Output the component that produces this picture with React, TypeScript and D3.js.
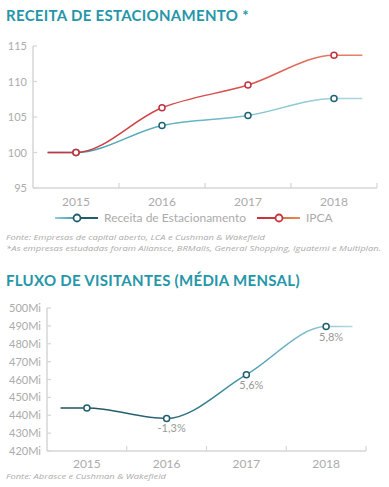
import React, { useRef, useEffect } from 'react';
import * as d3 from 'd3';

const years = ['2015', '2016', '2017', '2018'];
const receita = [100, 103.8, 105.2, 107.6];
const ipca = [100, 106.3, 109.5, 113.7];
const parkingTicks = [95, 100, 105, 110, 115];

const visitantes = [444, 438.2, 462.7, 489.6];
const visitantesLabels = ['', '-1,3%', '5,6%', '5,8%'];
const visitorTicks = [420, 430, 440, 450, 460, 470, 480, 490, 500];

const TEAL = '#2596a9';
const GRAY = '#ababab';
const AXIS = '#d6d6d6';
const FONT = 'Lato, "Open Sans", sans-serif';

const App = () => {
    const ref = useRef(null);

    useEffect(() => {
        const svg = d3.select(ref.current);
        svg.selectAll('*').remove();
        const defs = svg.append('defs');

        const grad = (id, x1, x2, stops) => {
            const g = defs.append('linearGradient')
                .attr('id', id)
                .attr('gradientUnits', 'userSpaceOnUse')
                .attr('x1', x1).attr('x2', x2).attr('y1', 0).attr('y2', 0);
            stops.forEach(([o, c]) => g.append('stop').attr('offset', o).attr('stop-color', c));
        };

        // shared axis drawing
        const drawAxes = (x, y, ticks, fmt, labelX, yearBaseline) => {
            const [x0, x1] = x.range();
            const [yb, yt] = y.range();
            const g = svg.append('g');
            g.append('line').attr('x1', x0).attr('x2', x0).attr('y1', yt).attr('y2', yb)
                .attr('stroke', AXIS).attr('stroke-width', 1.5);
            g.append('line').attr('x1', x0).attr('x2', x1).attr('y1', yb).attr('y2', yb)
                .attr('stroke', AXIS).attr('stroke-width', 1.5);
            g.selectAll('.yt').data(ticks).enter().append('line')
                .attr('x1', x0).attr('x2', x0 + 4)
                .attr('y1', d => y(d)).attr('y2', d => y(d))
                .attr('stroke', AXIS).attr('stroke-width', 1.2);
            g.selectAll('.yl').data(ticks).enter().append('text')
                .attr('x', labelX).attr('y', d => y(d) + 4)
                .attr('text-anchor', 'end')
                .attr('font-size', 11).attr('fill', GRAY).attr('font-family', FONT)
                .text(fmt);
            g.selectAll('.xt').data(years).enter().append('line')
                .attr('x1', d => x(d) + x.bandwidth()).attr('x2', d => x(d) + x.bandwidth())
                .attr('y1', yb).attr('y2', yb - 5)
                .attr('stroke', AXIS).attr('stroke-width', 1.2);
            g.selectAll('.xl').data(years).enter().append('text')
                .attr('x', d => x(d) + x.bandwidth() / 2).attr('y', yearBaseline)
                .attr('text-anchor', 'middle')
                .attr('font-size', 12).attr('fill', GRAY).attr('font-family', FONT)
                .text(d => d);
        };

        const drawSeries = (x, y, values, stroke, markerStroke) => {
            const stub = x.bandwidth() * 0.33;
            const cx = d => x(d) + x.bandwidth() / 2;
            const pts = values.map((v, i) => [cx(years[i]), y(v)]);
            const ext = [
                [pts[0][0] - stub, pts[0][1]],
                ...pts,
                [pts[pts.length - 1][0] + stub, pts[pts.length - 1][1]],
            ];
            const line = d3.line().curve(d3.curveMonotoneX);
            svg.append('path').attr('d', line(ext))
                .attr('fill', 'none').attr('stroke', stroke).attr('stroke-width', 1.5);
            svg.append('g').selectAll('circle').data(pts).enter().append('circle')
                .attr('cx', d => d[0]).attr('cy', d => d[1]).attr('r', 3)
                .attr('fill', '#fff').attr('stroke', markerStroke).attr('stroke-width', 1.5);
            return pts;
        };

        const title = (txt, yy) => svg.append('text')
            .attr('x', 6).attr('y', yy)
            .attr('font-size', 15).attr('font-weight', 700).attr('fill', TEAL)
            .attr('font-family', FONT).attr('letter-spacing', 0.3)
            .text(txt);

        const note = (txt, yy, w) => svg.append('text')
            .attr('x', 6).attr('y', yy)
            .attr('font-size', 7.8).attr('font-style', 'italic').attr('fill', GRAY)
            .attr('font-family', '"Open Sans", sans-serif')
            .attr('textLength', w).attr('lengthAdjust', 'spacingAndGlyphs')
            .text(txt);

        // ---- chart 1
        title('RECEITA DE ESTACIONAMENTO *', 21);
        const x1 = d3.scaleBand().domain(years).range([33, 377]);
        const y1 = d3.scaleLinear().domain([95, 115]).range([188, 46]);
        drawAxes(x1, y1, parkingTicks, d => d, 27, 206);

        grad('gRec', 50, 363, [[0, '#3a9aac'], [0.5, '#6bb7c6'], [1, '#acd7df']]);
        grad('gIpca', 50, 363, [[0, '#c9333f'], [0.6, '#d9524e'], [1, '#e8836a']]);
        drawSeries(x1, y1, receita, 'url(#gRec)', '#1f6473');
        drawSeries(x1, y1, ipca, 'url(#gIpca)', '#bf3340');

        // legend
        grad('gLegRec', 55, 98, [[0, '#8fcdd8'], [0.5, '#3c9aab'], [0.5, '#1f5e6c'], [1, '#1f5e6c']]);
        grad('gLegIpca', 257, 300, [[0, '#c9303c'], [0.5, '#d23a40'], [0.5, '#e06a45'], [1, '#e98a55']]);
        const leg = svg.append('g').attr('font-family', FONT).attr('font-size', 12).attr('fill', GRAY);
        leg.append('line').attr('x1', 55).attr('x2', 98).attr('y1', 218).attr('y2', 218)
            .attr('stroke', 'url(#gLegRec)').attr('stroke-width', 2.2);
        leg.append('circle').attr('cx', 77).attr('cy', 218).attr('r', 3.5)
            .attr('fill', '#fff').attr('stroke', '#1f5e6c').attr('stroke-width', 1.8);
        leg.append('text').attr('x', 104).attr('y', 222).attr('textLength', 142)
            .attr('lengthAdjust', 'spacingAndGlyphs').text('Receita de Estacionamento');
        leg.append('line').attr('x1', 257).attr('x2', 300).attr('y1', 218).attr('y2', 218)
            .attr('stroke', 'url(#gLegIpca)').attr('stroke-width', 2.2);
        leg.append('circle').attr('cx', 279).attr('cy', 218).attr('r', 3.5)
            .attr('fill', '#fff').attr('stroke', '#c9303c').attr('stroke-width', 1.8);
        leg.append('text').attr('x', 306).attr('y', 222).text('IPCA');

        note('Fonte: Empresas de capital aberto, LCA e Cushman & Wakefield', 240, 259);
        note('*As empresas estudadas foram Aliansce, BRMalls, General Shopping, Iguatemi e Multiplan.', 251, 375);

        // ---- chart 2
        title('FLUXO DE VISITANTES (MÉDIA MENSAL)', 286);
        const x2 = d3.scaleBand().domain(years).range([47, 366]);
        const y2 = d3.scaleLinear().domain([420, 500]).range([451, 308]);
        drawAxes(x2, y2, visitorTicks, d => `${d}Mi`, 41, 468);

        grad('gVis', 65, 354, [[0, '#22505c'], [0.35, '#2b6878'], [0.65, '#4a9bb2'], [1, '#b0dbe4']]);
        const pts = drawSeries(x2, y2, visitantes, 'url(#gVis)', '#1f5e6c');
        svg.append('g').selectAll('text').data(pts).enter().append('text')
            .attr('x', d => d[0] + 5).attr('y', d => d[1] + 14)
            .attr('text-anchor', 'middle')
            .attr('font-size', 11).attr('fill', '#999').attr('font-family', FONT)
            .text((d, i) => visitantesLabels[i]);

        note('Fonte: Abrasce e Cushman & Wakefield', 479, 160);
    }, []);

    return (
        <svg ref={ref} width={389} height={487}
            style={{ position: 'absolute', left: 0, top: 0, background: '#fff' }} />
    );
};

export default App;
